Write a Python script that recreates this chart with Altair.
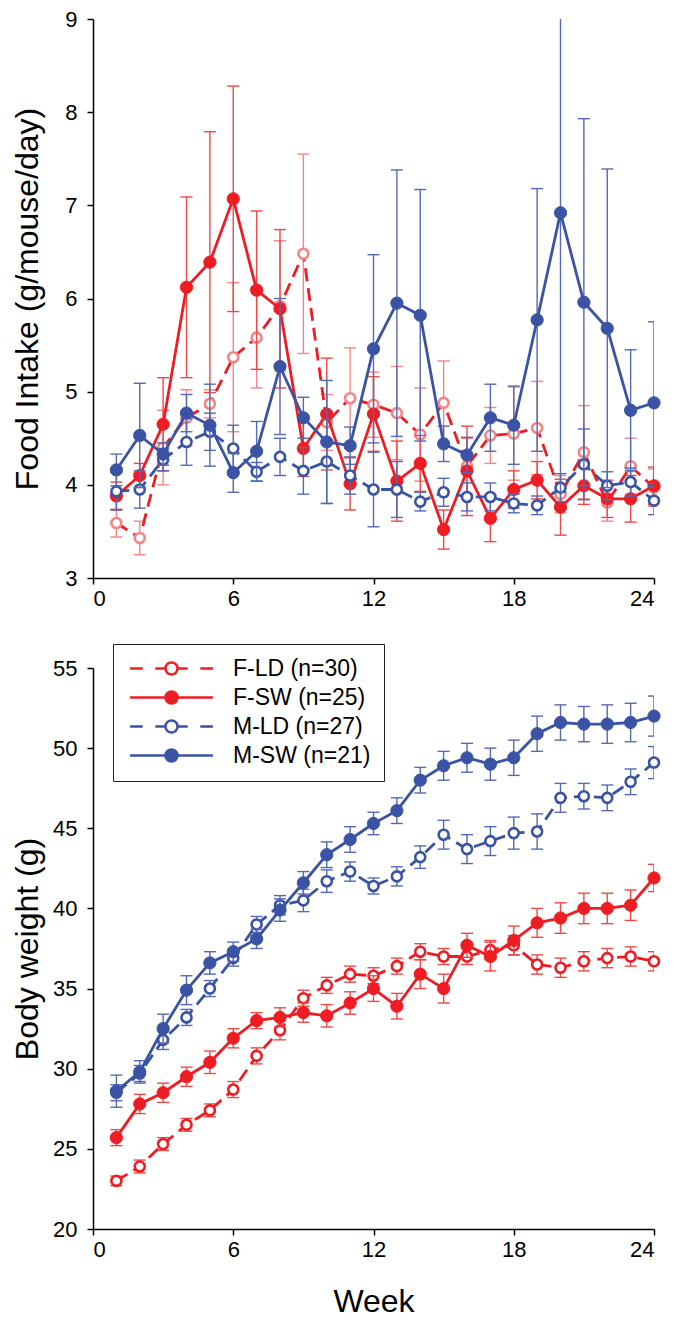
import altair as alt
import pandas as pd

FONT = "Liberation Sans"

weeks = list(range(1, 25))
groups = ["F-LD (n=30)", "F-SW (n=25)", "M-LD (n=27)", "M-SW (n=21)"]

# ---- Food intake (g/mouse/day): means and error (SE) ----
fi_fld = [3.59, 3.43, 4.40, 4.72, 4.87, 5.37, 5.58, 5.92, 6.48, 4.67, 4.93, 4.86,
          4.77, 4.54, 4.88, 4.20, 4.53, 4.55, 4.61, 3.90, 4.35, 3.81, 4.20, 3.97]
fi_fld_se = [0.15, 0.18, 0.40, 0.30, 0.15, 0.80, 0.54, 0.70, 1.07, 0.30, 0.54, 0.35,
             0.50, 0.50, 0.45, 0.30, 0.30, 0.50, 0.50, 0.20, 0.50, 0.20, 0.30, 0.20]
fi_fsw = [3.88, 4.10, 4.65, 6.12, 6.39, 7.07, 6.09, 5.89, 4.39, 4.76, 4.01, 4.76,
          4.04, 4.23, 3.52, 4.15, 3.64, 3.95, 4.05, 3.76, 3.99, 3.85, 3.85, 3.99]
fi_fsw_se = [0.15, 0.13, 0.50, 0.97, 1.40, 1.21, 0.85, 0.85, 0.30, 0.60, 0.28, 0.40,
             0.43, 0.30, 0.21, 0.48, 0.25, 0.20, 0.20, 0.30, 0.20, 0.20, 0.25, 0.20]
fi_mld = [3.93, 3.95, 4.27, 4.46, 4.57, 4.39, 4.14, 4.30, 4.15, 4.25, 4.10, 3.95,
          3.95, 3.82, 3.92, 3.87, 3.87, 3.80, 3.78, 3.97, 4.22, 3.99, 4.03, 3.83]
fi_mld_se = [0.20, 0.20, 0.12, 0.25, 0.20, 0.25, 0.10, 0.20, 0.25, 0.45, 0.20, 0.40,
             0.30, 0.10, 0.15, 0.15, 0.15, 0.10, 0.10, 0.15, 0.38, 0.15, 0.15, 0.15]
fi_msw = [4.16, 4.53, 4.33, 4.77, 4.64, 4.13, 4.36, 5.27, 4.72, 4.46, 4.42, 5.46,
          5.95, 5.82, 4.44, 4.32, 4.72, 4.64, 5.77, 6.92, 5.96, 5.68, 4.80, 4.88]
fi_msw_se = [0.17, 0.56, 0.12, 0.20, 0.44, 0.21, 0.32, 0.73, 0.22, 0.66, 0.20, 1.01,
             1.43, 1.35, 0.19, 0.19, 0.36, 0.42, 1.41, 3.00, 1.97, 1.71, 0.65, 0.87]

# ---- Body weight (g): means and error (SE) ----
bw_fld = [23.0, 23.9, 25.3, 26.5, 27.4, 28.7, 30.8, 32.4, 34.4, 35.2, 35.9, 35.8,
          36.4, 37.3, 37.0, 37.0, 37.4, 37.7, 36.5, 36.3, 36.7, 36.9, 37.0, 36.7]
bw_fld_se = [0.3, 0.4, 0.4, 0.4, 0.4, 0.5, 0.5, 0.6, 0.5, 0.5, 0.5, 0.5,
             0.5, 0.5, 0.5, 0.5, 0.6, 0.6, 0.6, 0.6, 0.6, 0.6, 0.6, 0.6]
bw_fsw = [25.7, 27.8, 28.5, 29.5, 30.4, 31.9, 33.0, 33.2, 33.5, 33.3, 34.1, 35.0,
          33.9, 35.9, 35.0, 37.7, 37.0, 38.0, 39.1, 39.4, 40.0, 40.0, 40.2, 41.9]
bw_fsw_se = [0.5, 0.6, 0.6, 0.6, 0.7, 0.6, 0.5, 0.6, 0.6, 0.7, 0.7, 0.8,
             0.8, 0.9, 0.9, 0.75, 0.9, 0.9, 0.9, 0.95, 0.95, 0.95, 0.95, 0.85]
bw_mld = [28.5, 29.7, 31.8, 33.2, 35.0, 36.9, 39.0, 40.2, 40.5, 41.7, 42.3, 41.4,
          42.0, 43.2, 44.6, 43.7, 44.2, 44.7, 44.8, 46.9, 47.0, 46.9, 47.9, 49.1]
bw_mld_se = [0.5, 0.5, 0.6, 0.5, 0.5, 0.5, 0.5, 0.6, 0.7, 0.7, 0.6, 0.5,
             0.6, 0.7, 0.9, 0.9, 0.9, 1.0, 1.1, 0.9, 0.8, 0.8, 0.8, 1.0]
bw_msw = [28.6, 29.8, 32.5, 34.9, 36.6, 37.3, 38.1, 39.9, 41.6, 43.35, 44.3, 45.3,
          46.1, 48.0, 48.9, 49.4, 49.0, 49.4, 50.9, 51.6, 51.5, 51.5, 51.6, 52.0]
bw_msw_se = [1.0, 0.7, 0.9, 0.9, 0.7, 0.6, 0.6, 0.7, 0.7, 0.8, 0.8, 0.7,
             0.8, 0.8, 0.9, 0.9, 1.0, 1.1, 1.1, 1.1, 1.1, 1.2, 1.2, 1.25]

x_ticks = [0, 6, 12, 18, 24]
fi_y_ticks = [3, 4, 5, 6, 7, 8, 9]
bw_y_ticks = [20, 25, 30, 35, 40, 45, 50, 55]

RED = "#EE1D23"
BLUE = "#3A53A4"
RED_ERR = "#F04848"
PINK = "#F28686"
BLUE_ERR = "#5669B2"


def table(series):
    rows = []
    for g, (vals, ses) in zip(groups, series):
        for w, v, s in zip(weeks, vals, ses):
            rows.append({"week": w, "group": g, "value": v, "lo": v - s, "hi": v + s})
    return pd.DataFrame(rows)


fi_df = table([(fi_fld, fi_fld_se), (fi_fsw, fi_fsw_se), (fi_mld, fi_mld_se), (fi_msw, fi_msw_se)])
bw_df = table([(bw_fld, bw_fld_se), (bw_fsw, bw_fsw_se), (bw_mld, bw_mld_se), (bw_msw, bw_msw_se)])

DASH = [13, 7]


def styles(top):
    return {
        "F-LD (n=30)": dict(line=RED, dash=DASH, fill="white", stroke=PINK if top else RED,
                            err=PINK if top else RED_ERR, open=True),
        "F-SW (n=25)": dict(line=RED, dash=None, fill=RED, stroke=RED, err=RED_ERR, open=False),
        "M-LD (n=27)": dict(line=BLUE, dash=DASH, fill="white", stroke=BLUE, err=BLUE_ERR, open=True),
        "M-SW (n=21)": dict(line=BLUE, dash=None, fill=BLUE, stroke=BLUE, err=BLUE_ERR, open=False),
    }


def panel(df, ydom, yvals, ytitle, xtitle, top):
    xenc = alt.X("week:Q", scale=alt.Scale(domain=[0, 24], nice=False, zero=False),
                 axis=alt.Axis(values=x_ticks, title=xtitle, format="d"))
    yscale = alt.Scale(domain=ydom, nice=False, zero=False)
    yaxis = alt.Axis(values=yvals, title=ytitle, minExtent=44, maxExtent=44, titlePadding=5)
    st_all = styles(top)
    layers = []
    for g in groups:
        st = st_all[g]
        sub = df[df["group"] == g]
        base = alt.Chart(sub)
        layers.append(base.mark_rule(color=st["err"], strokeWidth=1.4, clip=True).encode(
            x=xenc, y=alt.Y("lo:Q", scale=yscale, axis=yaxis), y2="hi:Q"))
        for f in ["lo", "hi"]:
            layers.append(base.mark_tick(orient="horizontal", color=st["err"], size=12,
                                         thickness=1.4, clip=True, opacity=1).encode(
                x=xenc, y=alt.Y(f"{f}:Q", scale=yscale, axis=yaxis)))
        lk = dict(color=st["line"], strokeWidth=2.8)
        if st["dash"]:
            lk["strokeDash"] = st["dash"]
        layers.append(base.mark_line(**lk).encode(
            x=xenc, y=alt.Y("value:Q", scale=yscale, axis=yaxis)))
        if st["open"]:
            pk = dict(size=100, fill=st["fill"], stroke=st["stroke"], strokeWidth=2.6)
        else:
            pk = dict(size=150, fill=st["fill"], stroke=st["stroke"], strokeWidth=1)
        layers.append(base.mark_circle(opacity=1, fillOpacity=1, **pk).encode(
            x=xenc, y=alt.Y("value:Q", scale=yscale, axis=yaxis)))
    return layers, xenc, yscale, yaxis


top_layers, _, _, _ = panel(fi_df, [3, 9], fi_y_ticks, "Food Intake (g/mouse/day)", None, True)
top = alt.layer(*top_layers).properties(width=561, height=559)

bot_layers, xenc_b, yscale_b, yaxis_b = panel(bw_df, [20, 55], bw_y_ticks, "Body weight (g)", "Week", False)

# legend symbols: line through a circle (solid or dashed)
circ = "M-0.67,0A0.67,0.67,0,1,0,0.67,0A0.67,0.67,0,1,0,-0.67,0Z"
solid_sym = "M-4.6,0L-0.67,0M0.67,0L4.6,0" + circ
dash_sym = "M-4.6,0L-3.2,0M-1.8,0L-0.67,0M0.67,0L1.8,0M3.2,0L4.6,0" + circ
leg_shapes = [dash_sym, solid_sym, dash_sym, solid_sym]
leg_strokes = [RED, RED, BLUE, BLUE]
leg_fills = ["white", RED, "white", BLUE]

leg = alt.Legend(title=None, orient="none", legendX=20, legendY=-24,
                 strokeColor="#222222", fillColor="white", padding=13,
                 symbolSize=324, symbolStrokeWidth=2.5, symbolOffset=34,
                 labelOffset=50, labelFont=FONT, labelFontSize=23, labelColor="black",
                 rowPadding=5, labelExpr="datum.label + '\u00a0\u00a0'")

legend_layer = alt.Chart(bw_df).transform_filter("datum.week < 0").mark_point(
    strokeWidth=2.5, opacity=1).encode(
    x=xenc_b, y=alt.Y("value:Q", scale=yscale_b, axis=yaxis_b),
    shape=alt.Shape("group:N", scale=alt.Scale(domain=groups, range=leg_shapes), legend=leg),
    stroke=alt.Stroke("group:N", scale=alt.Scale(domain=groups, range=leg_strokes), legend=leg),
    fill=alt.Fill("group:N", scale=alt.Scale(domain=groups, range=leg_fills), legend=leg),
)

bottom = alt.layer(*bot_layers, legend_layer).properties(width=561, height=561)

chart = alt.vconcat(top, bottom, spacing=34).resolve_legend(
    shape="independent", stroke="independent", fill="independent"
).properties(
    padding={"left": 3, "top": 0, "right": 5, "bottom": 0}
).configure_view(stroke=None).configure_axis(
    labelFont=FONT, titleFont=FONT, labelFontSize=22, titleFontSize=32,
    titleFontWeight="normal", labelColor="black", titleColor="black",
    domainColor="black", tickColor="black", domainWidth=1.5, tickWidth=1.5,
    tickSize=6, grid=False
).configure_axisY(labelPadding=10).configure_axisX(labelPadding=4, titlePadding=26)

chart.save("out.html", embed_options={"renderer": "svg", "actions": False})
